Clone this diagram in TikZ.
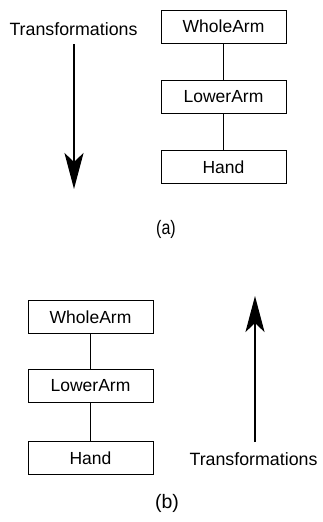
\documentclass[tikz,border=0pt]{standalone}
\usepackage{fontspec}
\setmainfont{Liberation Sans}
\usetikzlibrary{arrows.meta}
\begin{document}
\begin{tikzpicture}[x=1pt,y=-1pt,
  part/.style={draw,line width=1pt,minimum width=125pt,minimum height=33pt,inner sep=0pt,font=\fontsize{17.5}{20}\selectfont},
  link/.style={line width=1pt},
  flow/.style={line width=2.6pt,-{Stealth[length=36pt,width=19pt,inset=9pt]}},
  lbl/.style={font=\fontsize{17.8}{20}\selectfont,inner sep=0pt},
  sublabel/.style={font=\fontsize{19.5}{22}\selectfont,inner sep=0pt}]
\useasboundingbox (0,0) rectangle (322,522);
% (a)
\node[part] (wa) at (223.5,26.5) {WholeArm};
\node[part] (la) at (223.5,96.5) {LowerArm};
\node[part] (ha) at (223.5,167) {Hand};
\draw[link] (wa) -- (la);
\draw[link] (la) -- (ha);
\node[lbl] (ta) at (73.5,29) {Transformations};
\coordinate (sa) at (74,44);
\coordinate (ea) at (74,189);
\draw[flow] (sa) -- (ea);
\node[sublabel] (ca) at (166,229) {\addfontfeature{FakeStretch=0.82}(a)};
% (b)
\node[part] (wb) at (90.5,317) {WholeArm};
\node[part] (lb) at (90.5,385.5) {LowerArm};
\node[part] (hb) at (90.5,458) {Hand};
\draw[link] (wb) -- (lb);
\draw[link] (lb) -- (hb);
\node[lbl] (tb) at (253.5,459) {Transformations};
\coordinate (sb) at (255,442);
\coordinate (eb) at (255,296);
\draw[flow] (sb) -- (eb);
\node[sublabel] (cb) at (167,503) {(b)};
\end{tikzpicture}
\end{document}
